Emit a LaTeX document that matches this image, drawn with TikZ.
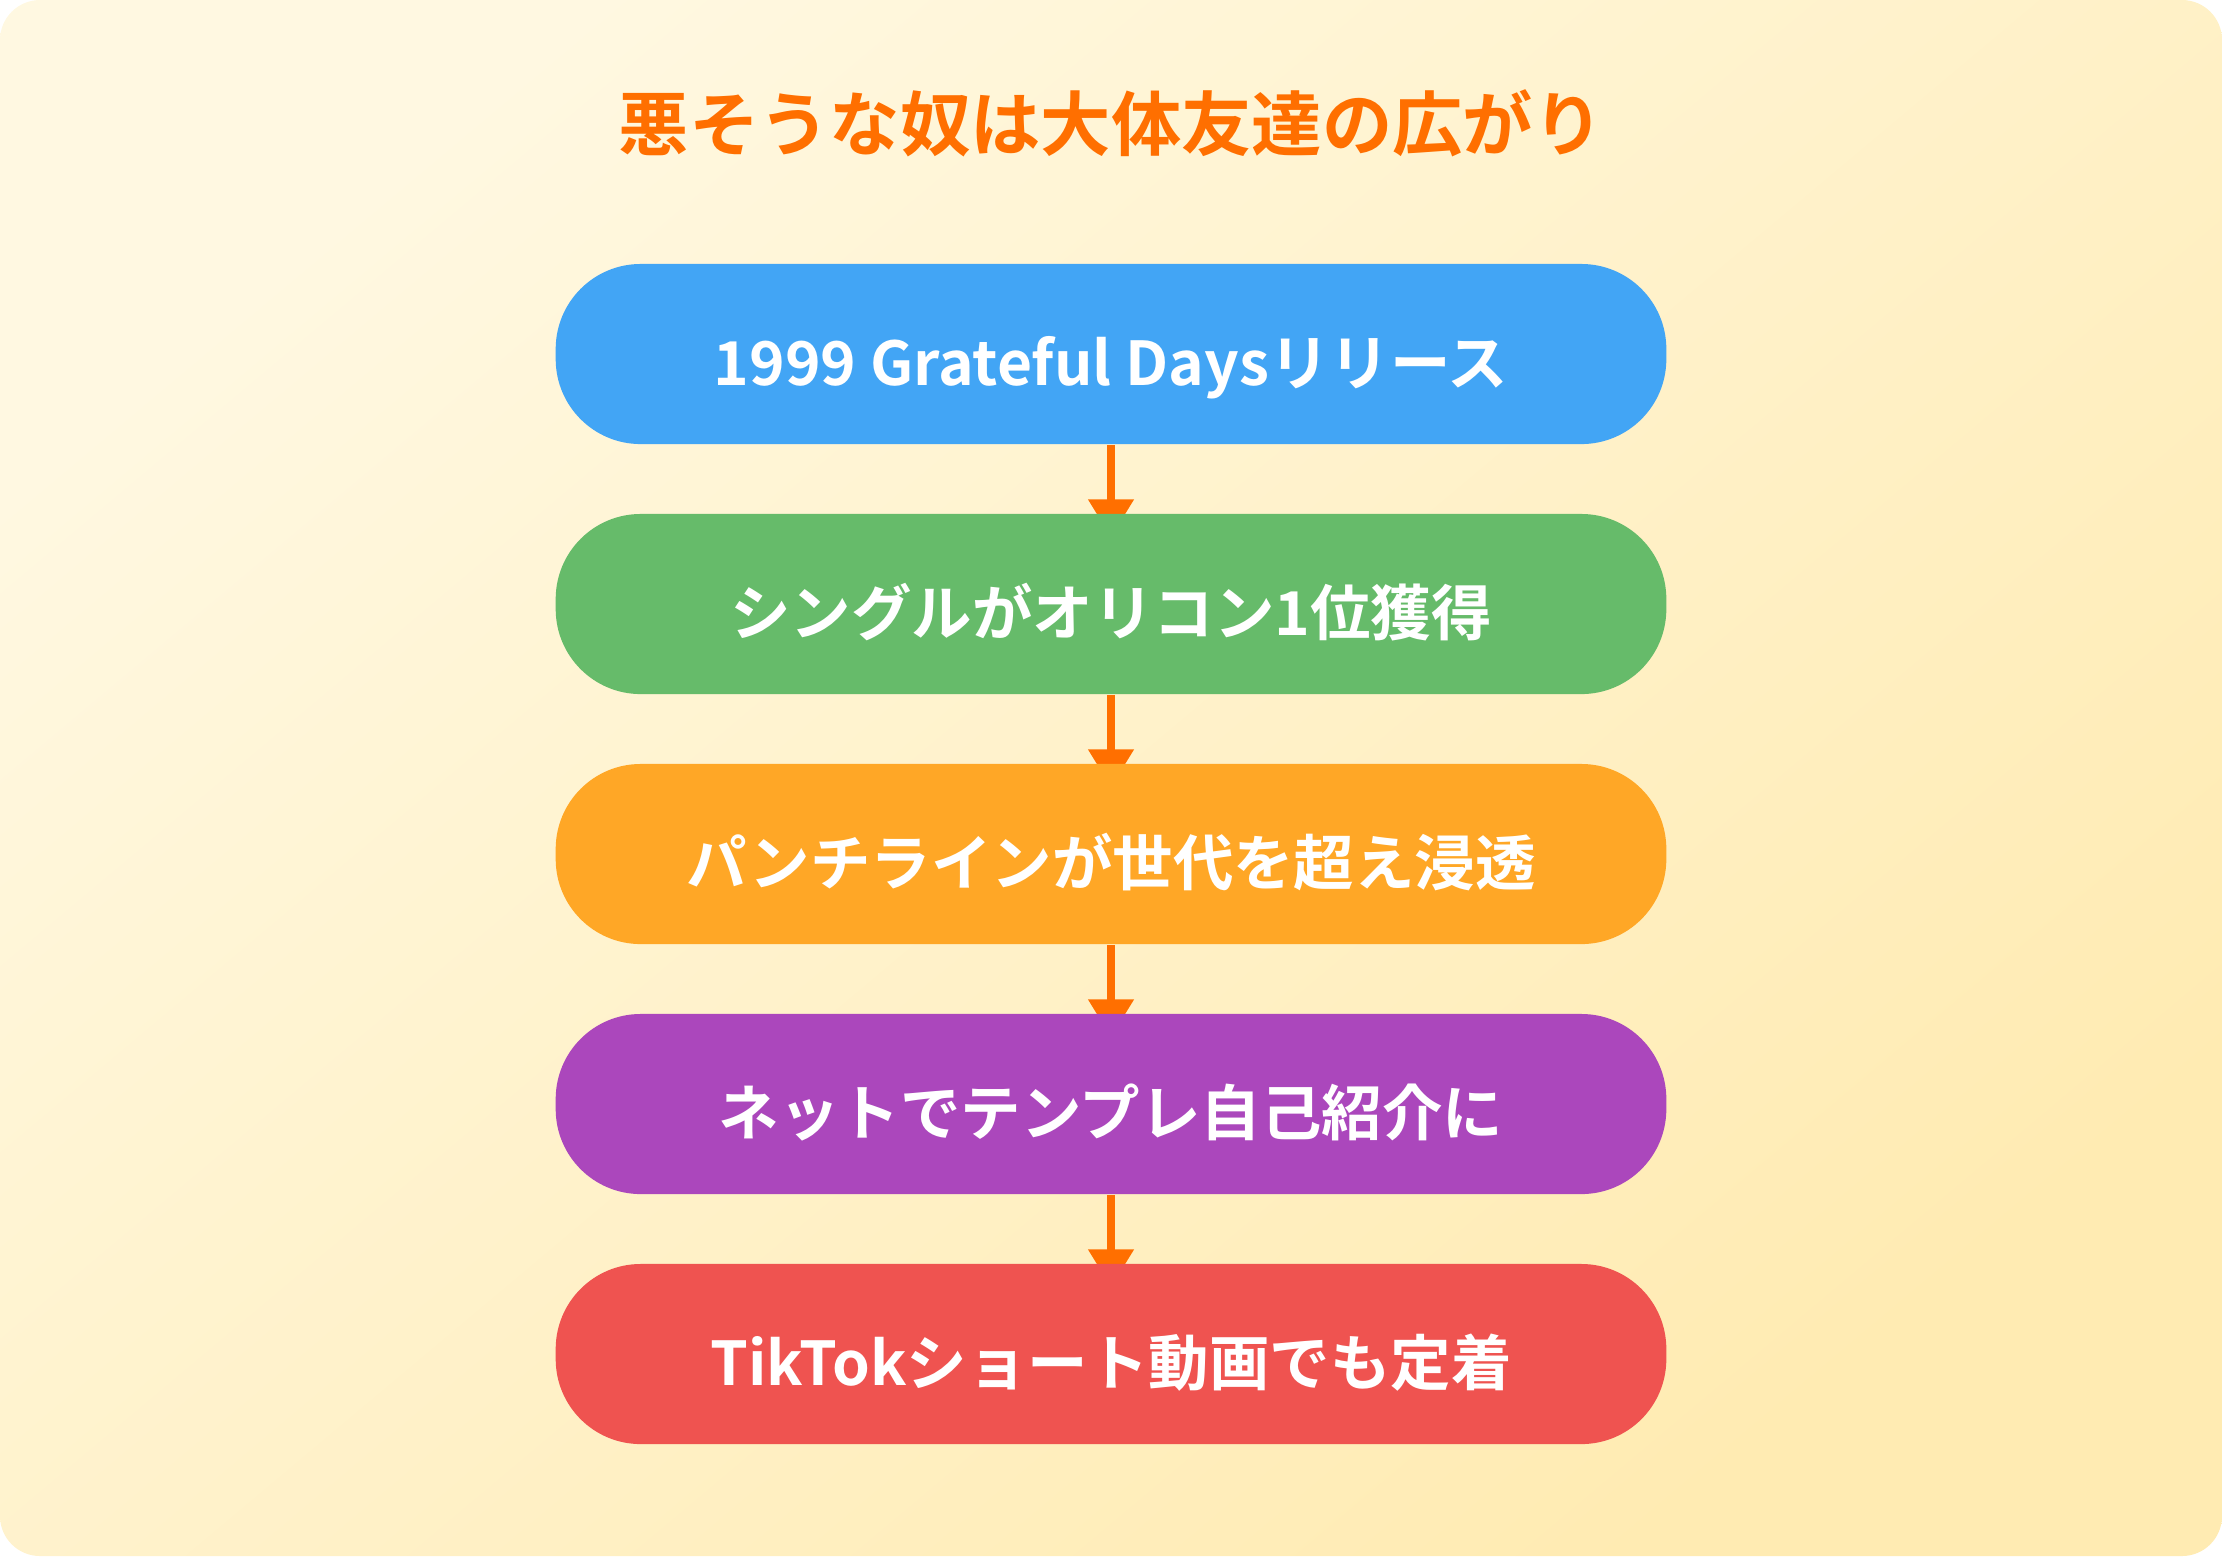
\documentclass[tikz,border=0pt]{standalone}
\usepackage{fontspec}
\setmainfont{Noto Sans CJK JP}[BoldFont={Noto Sans CJK JP Bold}]
\usepackage{tikz}
\usetikzlibrary{arrows.meta,positioning}
\definecolor{bgTop}{HTML}{FFF8E1}
\definecolor{bgBot}{HTML}{FFEBB2}
\definecolor{titleOrange}{HTML}{FF6F00}
\definecolor{blueBox}{HTML}{42A5F5}
\definecolor{greenBox}{HTML}{66BB6A}
\definecolor{orangeBox}{HTML}{FFA726}
\definecolor{purpleBox}{HTML}{AB47BC}
\definecolor{redBox}{HTML}{EF5350}
\pgfdeclarelayer{bg}
\pgfdeclarelayer{arr}
\pgfsetlayers{bg,arr,main}

\begin{document}
\begin{tikzpicture}[x=0.01cm,y=-0.01cm,
  pill/.style={rounded corners=0.85cm, minimum width=11.1cm, minimum height=1.8cm,
    inner sep=0pt, text height=0.72cm, text depth=0.1cm,
    text=white, font=\bfseries\fontsize{17.2}{21}\selectfont},
  flow/.style={-{Triangle[length=0.38cm,width=0.44cm]}, line width=0.08cm, titleOrange}]
\useasboundingbox (0,0) rectangle (2222,1556);

\begin{pgfonlayer}{bg}
\shade[rounded corners=0.4cm, top color=bgTop, bottom color=bgBot, shading angle=40] (0,0) rectangle (2222,1556);
\end{pgfonlayer}

\node[text=titleOrange, font=\bfseries\fontsize{20}{24}\selectfont] at (1111,123) (title) {悪そうな奴は大体友達の広がり};

\node[pill, fill=blueBox]   at (1111,354)  (boxA) {1999 Grateful Daysリリース};
\node[pill, fill=greenBox]  at (1111,604)  (boxB) {シングルがオリコン1位獲得};
\node[pill, fill=orangeBox] at (1111,854)  (boxC) {パンチラインが世代を超え浸透};
\node[pill, fill=purpleBox] at (1111,1104) (boxD) {ネットでテンプレ自己紹介に};
\node[pill, fill=redBox]    at (1111,1354) (boxE) {TikTokショート動画でも定着};

\begin{pgfonlayer}{arr}
\draw[flow] (boxA.south) -- ([yshift=-0.24cm]boxB.north);
\draw[flow] (boxB.south) -- ([yshift=-0.24cm]boxC.north);
\draw[flow] (boxC.south) -- ([yshift=-0.24cm]boxD.north);
\draw[flow] (boxD.south) -- ([yshift=-0.24cm]boxE.north);
\end{pgfonlayer}

\end{tikzpicture}
\end{document}
